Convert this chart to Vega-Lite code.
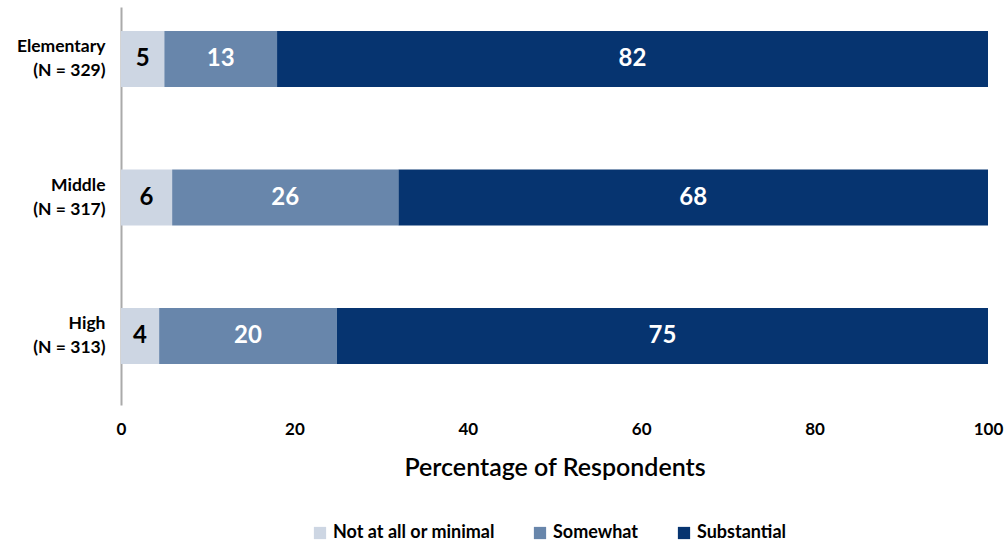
{
  "$schema": "https://vega.github.io/schema/vega-lite/v6.json",
  "autosize": {"type": "none"},
  "padding": {"left": 121, "top": 7, "right": 20, "bottom": 141},
  "width": 867,
  "height": 398,
  "background": "white",
  "config": {
    "font": "Lato",
    "view": {"stroke": null}
  },
  "data": {
    "values": [
      {"level": "Elementary\n(N = 329)", "category": "Not at all or minimal", "rank": 1, "value": 5.0, "label": "5"},
      {"level": "Elementary\n(N = 329)", "category": "Somewhat", "rank": 2, "value": 13.0, "label": "13"},
      {"level": "Elementary\n(N = 329)", "category": "Substantial", "rank": 3, "value": 82.0, "label": "82"},
      {"level": "Middle\n(N = 317)", "category": "Not at all or minimal", "rank": 1, "value": 5.9, "label": "6"},
      {"level": "Middle\n(N = 317)", "category": "Somewhat", "rank": 2, "value": 26.1, "label": "26"},
      {"level": "Middle\n(N = 317)", "category": "Substantial", "rank": 3, "value": 68.0, "label": "68"},
      {"level": "High\n(N = 313)", "category": "Not at all or minimal", "rank": 1, "value": 4.4, "label": "4"},
      {"level": "High\n(N = 313)", "category": "Somewhat", "rank": 2, "value": 20.5, "label": "20"},
      {"level": "High\n(N = 313)", "category": "Substantial", "rank": 3, "value": 75.1, "label": "75"}
    ]
  },
  "encoding": {
    "y": {
      "field": "level",
      "type": "nominal",
      "sort": ["Elementary\n(N = 329)", "Middle\n(N = 317)", "High\n(N = 313)"],
      "scale": {"paddingInner": 0.596, "paddingOuter": 0.235, "align": 0.37},
      "axis": {
        "title": null,
        "labelExpr": "split(datum.label, '\\n')",
        "labelFontSize": 17.5,
        "labelFontWeight": "bold",
        "labelColor": "black",
        "labelLineHeight": 24,
        "labelOffset": -12,
        "labelPadding": 16,
        "ticks": false,
        "domainColor": "#aaaaaa",
        "domainWidth": 2
      }
    },
    "x": {
      "field": "value",
      "type": "quantitative",
      "stack": "zero",
      "scale": {"domain": [0, 100]},
      "axis": {
        "title": "Percentage of Respondents",
        "titleFontSize": 25,
        "titleFontWeight": 600,
        "titleColor": "black",
        "titlePadding": 18,
        "values": [0, 20, 40, 60, 80, 100],
        "labelFontSize": 17,
        "labelFontWeight": "bold",
        "labelColor": "black",
        "labelPadding": 16,
        "labelFlush": false,
        "ticks": false,
        "domain": false,
        "grid": false
      }
    },
    "order": {"field": "rank", "type": "quantitative"}
  },
  "layer": [
    {
      "mark": {"type": "bar"},
      "encoding": {
        "color": {
          "field": "category",
          "type": "nominal",
          "sort": ["Not at all or minimal", "Somewhat", "Substantial"],
          "scale": {
            "domain": ["Not at all or minimal", "Somewhat", "Substantial"],
            "range": ["#cdd6e3", "#6886ab", "#063470"]
          },
          "legend": {
            "title": null,
            "orient": "none",
            "legendX": 190,
            "legendY": 517,
            "direction": "horizontal",
            "symbolType": "square",
            "symbolSize": 150,
            "symbolStrokeWidth": 0,
            "labelFontSize": 18,
            "labelFontWeight": "bold",
            "labelColor": "black",
            "labelLimit": 400,
            "columnPadding": 36
          }
        }
      }
    },
    {
      "mark": {"type": "text", "fontSize": 24, "fontWeight": "bold", "baseline": "middle", "align": "center"},
      "encoding": {
        "x": {"field": "value", "type": "quantitative", "stack": "zero", "bandPosition": 0.5},
        "text": {"field": "label"},
        "color": {
          "condition": {"test": "datum.category === 'Not at all or minimal'", "value": "black"},
          "value": "white"
        }
      }
    }
  ]
}
